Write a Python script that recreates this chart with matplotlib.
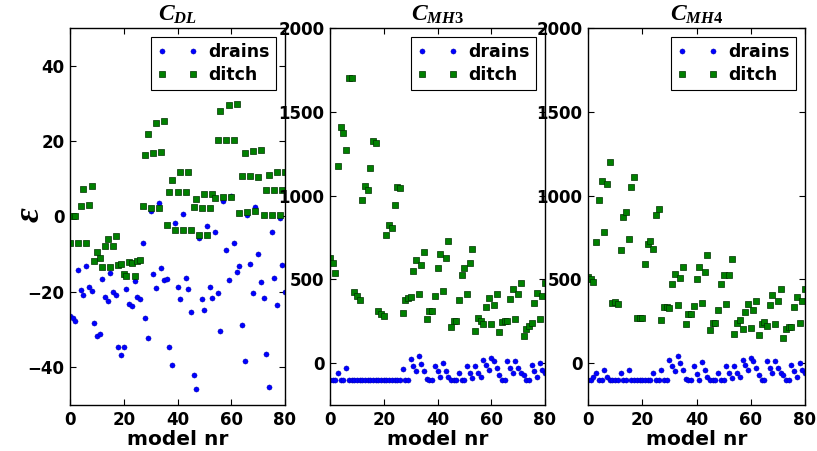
import matplotlib
matplotlib.use("Agg")
import matplotlib.pyplot as plt
import numpy as np

model_nr = list(range(81))

dl_drains = [-26.5, -27.0, -27.6, -14.1, -19.4, -20.8, -13.0, -18.6, -19.7,
             -28.3, -31.8, -31.2, -16.5, -21.4, -22.3, -15.0, -19.9, -20.8,
             -34.7, -36.7, -34.7, -19.3, -23.2, -23.7, -17.0, -21.4, -21.8,
             -7.1, -26.8, -32.3, 1.5, -15.2, -19.0, 3.5, -13.7, -16.8,
             -16.6, -34.7, -39.3, -1.6, -18.6, -21.9, 0.6, -16.2, -19.3,
             -25.2, -42.0, -45.7, -5.6, -21.8, -24.7, -2.4, -18.7, -21.5,
             -4.0, -20.2, -30.3, 4.2, -8.8, -16.8, 5.5, -7.1, -14.6,
             -13.0, -28.9, -38.3, 0.3, -12.5, -20.3, 2.5, -10.0, -17.4,
             -21.7, -36.5, -45.3, -4.0, -16.2, -23.6, -0.4, -12.8, -20.0]
dl_ditch = [-6.9, 0.0, 0.2, -6.9, 2.8, 7.2, -6.9, 3.1, 8.0,
            -11.8, -9.3, -10.9, -13.3, -7.8, -5.9, -13.5, -7.8, -5.3,
            -12.8, -12.5, -15.2, -15.7, -12.0, -12.3, -15.7, -11.8, -11.6,
            2.9, 16.4, 21.9, 2.2, 16.9, 24.9, 2.2, 17.1, 25.2,
            -2.2, 6.6, 9.7, -3.5, 6.4, 11.9, -3.7, 6.4, 11.9,
            -3.7, 2.6, 4.7, -4.9, 2.2, 5.9, -5.0, 2.2, 5.9,
            5.0, 20.2, 27.9, 5.3, 20.2, 29.6, 5.3, 20.2, 29.8,
            0.9, 10.8, 16.8, 1.1, 10.8, 17.5, 1.5, 10.6, 17.7,
            0.3, 7.1, 11.0, 0.3, 6.9, 11.8, 0.3, 6.9, 11.9]

mh3_drains = [-100, -100, -100, -60, -100, -100, -30, -100, -100,
              -100, -100, -100, -100, -100, -100, -100, -100, -100,
              -100, -100, -100, -100, -100, -100, -100, -100, -100,
              -36, -100, -100, 24, -16, -49, 40, -6, -46,
              -95, -100, -100, -16, -50, -85, 0, -45, -85,
              -100, -100, -100, -60, -100, -100, -20, -60, -90,
              -20, -60, -80, 20, -10, -40, 30, 10, -30,
              -70, -100, -100, 10, -30, -60, 10, -30, -60,
              -70, -100, -100, -10, -50, -80, 0, -40, -60]
mh3_ditch = [629, 599, 540, 1179, 1409, 1373, 1274, 1700, 1700,
             424, 401, 375, 972, 1060, 1032, 1165, 1323, 1313,
             311, 296, 282, 764, 827, 807, 946, 1052, 1046,
             302, 375, 387, 395, 549, 615, 415, 585, 663,
             262, 311, 311, 401, 565, 649, 430, 629, 728,
             216, 252, 252, 375, 524, 570, 411, 599, 683,
             192, 272, 252, 232, 337, 391, 232, 348, 411,
             183, 248, 252, 252, 381, 440, 262, 411, 480,
             163, 202, 222, 238, 361, 421, 262, 399, 480]

mh4_drains = [-100, -100, -80, -60, -100, -100, -40, -80, -100,
              -100, -100, -100, -60, -100, -100, -40, -100, -100,
              -100, -100, -100, -100, -100, -100, -60, -100, -100,
              -40, -100, -100, 20, -20, -50, 40, 0, -40,
              -95, -100, -100, -16, -65, -100, 5, -40, -80,
              -100, -100, -100, -60, -100, -100, -20, -60, -90,
              -20, -60, -80, 20, -10, -40, 30, 10, -30,
              -70, -100, -100, 10, -30, -60, 10, -30, -60,
              -70, -100, -100, -10, -50, -80, 0, -40, -60]
mh4_ditch = [515, 500, 484, 722, 972, 1089, 782, 1069, 1200,
             361, 365, 351, 673, 871, 901, 742, 1052, 1109,
             272, 272, 272, 593, 712, 728, 683, 883, 921,
             258, 337, 337, 331, 474, 530, 345, 510, 575,
             232, 292, 296, 341, 500, 575, 361, 546, 643,
             198, 242, 242, 317, 470, 526, 351, 526, 623,
             173, 238, 258, 202, 306, 355, 208, 317, 371,
             167, 232, 246, 222, 345, 405, 236, 371, 440,
             149, 202, 216, 218, 335, 395, 238, 371, 445]

titles = [r'$C_{DL}$', r'$C_{MH3}$', r'$C_{MH4}$']
series = [(dl_drains, dl_ditch), (mh3_drains, mh3_ditch), (mh4_drains, mh4_ditch)]
ylims = [(-50, 50), (-250, 2000), (-250, 2000)]
yticks = [[-40, -20, 0, 20, 40], [0, 500, 1000, 1500, 2000], [0, 500, 1000, 1500, 2000]]
xticks = [0, 20, 40, 60, 80]

plt.rcParams['mathtext.fontset'] = 'custom'
plt.rcParams['mathtext.it'] = 'Liberation Serif:italic:bold'
plt.rcParams['mathtext.rm'] = 'Liberation Serif:bold'
plt.rcParams['font.family'] = 'DejaVu Sans'
plt.rcParams['font.weight'] = 'bold'

W, H = 817, 451
fig = plt.figure(figsize=(W / 100, H / 100), dpi=100)
lefts = [70, 330, 588]
widths = [215, 215, 217]
top, bottom = 28, 405

for k in range(3):
    ax = fig.add_axes([lefts[k] / W, 1 - bottom / H, widths[k] / W, (bottom - top) / H])
    dr, di = series[k]
    ax.plot(model_nr, dr, 'o', color='#0000ff', ms=3.7, mec='#0000a0', mew=0.3,
            label='drains', linestyle='none')
    ax.plot(model_nr, di, 's', color='#008000', ms=3.8, mec='#003000', mew=0.5,
            label='ditch', linestyle='none')
    ax.set_xlim(0, 80)
    ax.set_ylim(*ylims[k])
    ax.set_xticks(xticks)
    ax.set_yticks(yticks[k])
    ax.tick_params(direction='in', top=True, right=True, length=4, width=0.8,
                   labelsize=12, pad=4)
    for lab in ax.get_xticklabels() + ax.get_yticklabels():
        lab.set_fontweight('bold')
    for sp in ax.spines.values():
        sp.set_linewidth(1.0)
    ax.set_xlabel('model nr', fontsize=14.5, fontweight='bold', labelpad=1)
    ax.set_title(titles[k], fontsize=17, pad=5)
    leg = ax.legend(loc='upper right', numpoints=2, fancybox=False, framealpha=1,
                    edgecolor='black', prop={'weight': 'bold', 'size': 12.5},
                    borderpad=0.35, handletextpad=0.6, labelspacing=0.3,
                    handlelength=2.4, borderaxespad=0.5)
    leg.get_frame().set_linewidth(0.8)

fig.text(29 / W, 1 - 215 / H, r'$\varepsilon$', rotation=90, fontsize=26,
         ha='center', va='center')

fig.savefig('out.png', dpi=100)
